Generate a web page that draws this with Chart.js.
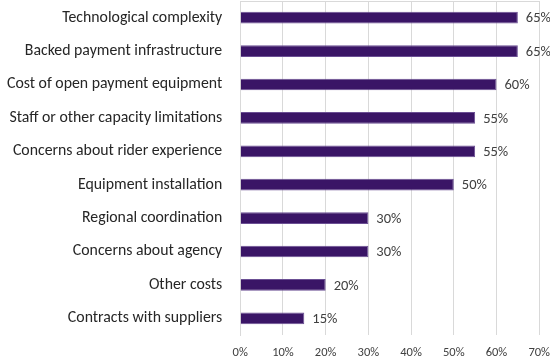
<!DOCTYPE html>
<html>
<head>
<meta charset="utf-8">
<script src="https://cdn.jsdelivr.net/npm/chart.js@4/dist/chart.umd.min.js"></script>
<style>
  html, body { margin: 0; padding: 0; background: #fff; }
  #wrap { width: 550px; height: 361px; }
</style>
</head>
<body>
<div id="wrap"><canvas id="bar-chart"></canvas></div>
<script>
var categories = [
  'Technological complexity',
  'Backed payment infrastructure',
  'Cost of open payment equipment',
  'Staff or other capacity limitations',
  'Concerns about rider experience',
  'Equipment installation',
  'Regional coordination',
  'Concerns about agency',
  'Other costs',
  'Contracts with suppliers'
];
var shares = [65, 65, 60, 55, 55, 50, 30, 30, 20, 15];
var xTicks = [0, 10, 20, 30, 40, 50, 60, 70];

var fontName = 'Carlito, Calibri, "Liberation Sans", Arial, sans-serif';

// labels at the end of each bar + the thin top frame line
var barLabels = {
  id: 'barLabels',
  beforeDatasetsDraw: function(chart){
    var ctx = chart.ctx, area = chart.chartArea;
    ctx.save();
    ctx.strokeStyle = '#d9d9d9';
    ctx.lineWidth = 1;
    ctx.beginPath();
    ctx.moveTo(area.left, area.top + 0.5);
    ctx.lineTo(area.right, area.top + 0.5);
    ctx.stroke();
    ctx.restore();
  },
  afterDatasetsDraw: function(chart){
    var ctx = chart.ctx;
    var meta = chart.getDatasetMeta(0);
    ctx.save();
    ctx.font = '14.5px ' + fontName;
    ctx.fillStyle = '#404040';
    ctx.textAlign = 'left';
    ctx.textBaseline = 'middle';
    meta.data.forEach(function(bar, i){
      ctx.fillText(shares[i] + '%', bar.x + 8, bar.y + 1);
    });
    ctx.restore();
  }
};

var ctx = document.getElementById('bar-chart');
var myChart = new Chart(ctx, {
  type: 'bar',
  data: {
    labels: categories,
    datasets: [{
      data: shares,
      backgroundColor: '#3a1566',
      borderColor: '#6b4f94',
      borderWidth: 1,
      barPercentage: 0.35,
      categoryPercentage: 1
    }]
  },
  plugins: [barLabels],
  options: {
    indexAxis: 'y',
    responsive: true,
    maintainAspectRatio: false,
    animation: false,
    layout: { padding: { top: 1, right: 1, bottom: 1, left: 7 } },
    plugins: {
      legend: { display: false },
      tooltip: { enabled: false }
    },
    scales: {
      x: {
        min: 0,
        max: 70,
        afterBuildTicks: function(scale){
          scale.ticks = xTicks.map(function(v){ return { value: v }; });
        },
        grid: { color: '#d9d9d9', drawTicks: true, tickLength: 10, tickColor: 'rgba(0,0,0,0)' },
        border: { display: false },
        ticks: {
          padding: 0,
          color: '#404040',
          font: { family: fontName, size: 12.5 },
          callback: function(v){ return v + '%'; }
        }
      },
      y: {
        afterFit: function(scale){
          scale.paddingTop = 0;
          scale.paddingBottom = 0;
        },
        grid: { display: false, drawTicks: true, tickLength: 18 },
        border: { color: '#d9d9d9' },
        ticks: {
          padding: 0,
          color: '#262626',
          font: { family: fontName, size: 15.8 }
        }
      }
    }
  }
});
</script>
</body>
</html>
